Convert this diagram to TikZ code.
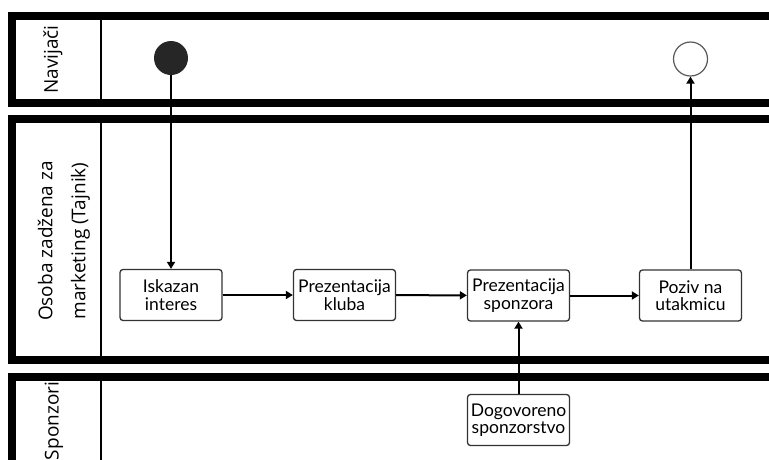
\documentclass[tikz,border=0pt]{standalone}
\usepackage{fontspec}
\setmainfont{Lato}
\newfontfamily\lanefont{Open Sans}
\usetikzlibrary{arrows.meta}
\begin{document}
\begin{tikzpicture}[x=1pt,y=-1pt,
  lane/.style={line width=8pt,draw=black},
  divider/.style={line width=2pt},
  task/.style={draw=black!80,line width=1.3pt,rounded corners=3pt,minimum width=102pt,minimum height=51pt,inner sep=1pt,align=center,font=\fontsize{17.5}{17.5}\selectfont,fill=white},
  flow/.style={line width=2pt,-{Triangle[length=7pt,width=8pt]}},
  lanelabel/.style={rotate=90,align=center,font=\lanefont\fontsize{19}{33}\selectfont}
]
\useasboundingbox (0,0) rectangle (769,459);
\clip (0,0) rectangle (769,459);
\fill[white] (0,0) rectangle (769,459);
% lanes
\draw[lane] (790,16) -- (12,16) -- (12,102.5) -- (790,102.5);
\draw[lane] (790,119) -- (12,119) -- (12,360) -- (790,360);
\draw[lane] (790,377) -- (12,377) -- (12,480);
\draw[divider] (100.5,20) -- (100.5,98.5);
\draw[divider] (101,123) -- (101,356);
\draw[divider] (101,381) -- (101,480);
% labels
\node[lanelabel] (lbl1) at (53,59.5) {Navijači};
\node[lanelabel] (lbl2) at (64,241) {Osoba zadžena za\\marketing (Tajnik)};
\node[lanelabel] (lbl3) at (54,421) {Sponzori};
% events
\node[circle,fill=black!85,minimum size=34pt,inner sep=0pt] (start) at (171,58) {};
\node[circle,draw=black!65,line width=1.2pt,fill=white,minimum size=34pt,inner sep=0pt] (end) at (690.5,59) {};
% tasks
\node[task] (t1) at (171,295) {Iskazan\\interes};
\node[task] (t2) at (344.5,295) {Prezentacija\\kluba};
\node[task] (t3) at (518.5,295.5) {Prezentacija\\sponzora};
\node[task] (t4) at (690.5,295.5) {Poziv na\\utakmicu};
\node[task] (t5) at (518.5,420) {Dogovoreno\\sponzorstvo};
% flows
\draw[flow] (start) -- (t1);
\draw[flow] (t1) -- (t2);
\draw[flow] (t2) -- (t3);
\draw[flow] (t3) -- (t4);
\draw[flow] (t4) -- (end);
\draw[flow] (t5) -- (t3);
\end{tikzpicture}
\end{document}
